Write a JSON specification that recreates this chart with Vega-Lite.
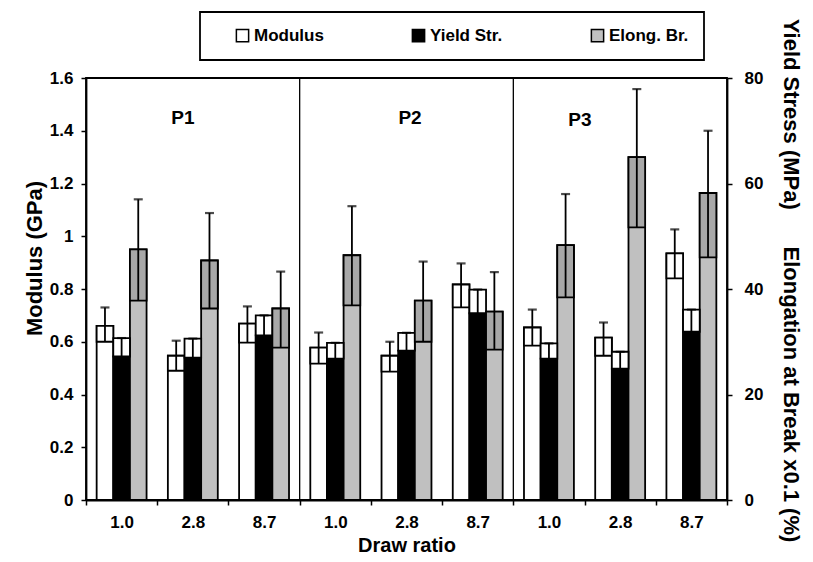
{
  "$schema": "https://vega.github.io/schema/vega-lite/v6.json",
  "width": 641,
  "height": 422,
  "autosize": "none",
  "padding": {"left": 86, "top": 78, "right": 86, "bottom": 62},
  "background": "white",
  "config": {
    "font": "Liberation Sans",
    "view": {"stroke": "black", "strokeWidth": 1.8},
    "axis": {
      "labelFont": "Liberation Sans", "labelFontWeight": "bold", "labelFontSize": 17, "labelColor": "black",
      "titleFont": "Liberation Sans", "titleFontWeight": "bold", "titleFontSize": 22, "titleColor": "black",
      "domainColor": "black", "domainWidth": 1.8, "tickColor": "black", "tickWidth": 1.5, "tickSize": 5, "grid": false
    }
  },
  "datasets": {
    "bars": [
      {"grp": "P1|1.0", "series": "Modulus", "v": 0.66, "lo": 0.60, "hi": 0.73},
      {"grp": "P1|1.0", "series": "Yield Str.", "v": 27.2, "lo": 27.2, "hi": 30.7},
      {"grp": "P1|1.0", "series": "Elong. Br.", "v": 47.5, "lo": 37.8, "hi": 57.0},
      {"grp": "P1|2.8", "series": "Modulus", "v": 0.547, "lo": 0.49, "hi": 0.604},
      {"grp": "P1|2.8", "series": "Yield Str.", "v": 27.0, "lo": 27.0, "hi": 30.6},
      {"grp": "P1|2.8", "series": "Elong. Br.", "v": 45.4, "lo": 36.3, "hi": 54.4},
      {"grp": "P1|8.7", "series": "Modulus", "v": 0.669, "lo": 0.597, "hi": 0.734},
      {"grp": "P1|8.7", "series": "Yield Str.", "v": 31.2, "lo": 31.2, "hi": 35.0},
      {"grp": "P1|8.7", "series": "Elong. Br.", "v": 36.3, "lo": 28.9, "hi": 43.3},
      {"grp": "P2|1.0", "series": "Modulus", "v": 0.578, "lo": 0.517, "hi": 0.635},
      {"grp": "P2|1.0", "series": "Yield Str.", "v": 26.8, "lo": 26.8, "hi": 29.8},
      {"grp": "P2|1.0", "series": "Elong. Br.", "v": 46.4, "lo": 36.9, "hi": 55.7},
      {"grp": "P2|2.8", "series": "Modulus", "v": 0.547, "lo": 0.487, "hi": 0.60},
      {"grp": "P2|2.8", "series": "Yield Str.", "v": 28.3, "lo": 28.3, "hi": 31.7},
      {"grp": "P2|2.8", "series": "Elong. Br.", "v": 37.8, "lo": 30.0, "hi": 45.2},
      {"grp": "P2|8.7", "series": "Modulus", "v": 0.817, "lo": 0.73, "hi": 0.897},
      {"grp": "P2|8.7", "series": "Yield Str.", "v": 35.4, "lo": 35.4, "hi": 39.9},
      {"grp": "P2|8.7", "series": "Elong. Br.", "v": 35.7, "lo": 28.5, "hi": 43.2},
      {"grp": "P3|1.0", "series": "Modulus", "v": 0.654, "lo": 0.585, "hi": 0.722},
      {"grp": "P3|1.0", "series": "Yield Str.", "v": 26.8, "lo": 26.8, "hi": 29.7},
      {"grp": "P3|1.0", "series": "Elong. Br.", "v": 48.3, "lo": 38.4, "hi": 58.0},
      {"grp": "P3|2.8", "series": "Modulus", "v": 0.616, "lo": 0.547, "hi": 0.673},
      {"grp": "P3|2.8", "series": "Yield Str.", "v": 24.9, "lo": 24.9, "hi": 28.1},
      {"grp": "P3|2.8", "series": "Elong. Br.", "v": 65.0, "lo": 51.7, "hi": 77.9},
      {"grp": "P3|8.7", "series": "Modulus", "v": 0.935, "lo": 0.84, "hi": 1.026},
      {"grp": "P3|8.7", "series": "Yield Str.", "v": 31.9, "lo": 31.9, "hi": 36.1},
      {"grp": "P3|8.7", "series": "Elong. Br.", "v": 58.2, "lo": 46.0, "hi": 70.0}
    ],
    "panels": [
      {"grp": "P1|2.8", "label": "P1", "y": 1.45},
      {"grp": "P2|2.8", "label": "P2", "y": 1.45},
      {"grp": "P3|1.0", "label": "P3", "y": 1.44}
    ],
    "dividers": [
      {"grp": "P2|1.0"},
      {"grp": "P3|1.0"}
    ]
  },
  "encoding": {
    "x": {
      "field": "grp", "type": "nominal",
      "scale": {"domain": ["P1|1.0","P1|2.8","P1|8.7","P2|1.0","P2|2.8","P2|8.7","P3|1.0","P3|2.8","P3|8.7"], "paddingInner": 0, "paddingOuter": 0},
      "axis": {"title": "Draw ratio", "titleFontSize": 20, "labelAngle": 0, "labelExpr": "split(datum.label, '|')[1]", "tickBand": "extent", "labelPadding": 9, "titlePadding": 5}
    }
  },
  "layer": [
    {
      "data": {"name": "bars"},
      "transform": [{"filter": "datum.series === 'Modulus'"}],
      "encoding": {
        "xOffset": {"field": "series", "type": "nominal", "scale": {"domain": ["Modulus", "Yield Str.", "Elong. Br."], "paddingInner": 0, "paddingOuter": 0.64}}
      },
      "layer": [
        {
          "mark": {"type": "bar", "stroke": "black", "strokeWidth": 1.8},
          "encoding": {
            "y": {"field": "v", "type": "quantitative", "scale": {"domain": [0, 1.6], "nice": false, "zero": true},
                  "axis": {"orient": "left", "values": [0, 0.2, 0.4, 0.6, 0.8, 1, 1.2, 1.4, 1.6], "format": "~g", "title": "Modulus (GPa)", "titlePadding": 3, "labelPadding": 8, "titleY": 180}},
            "fill": {"field": "series", "type": "nominal",
                     "scale": {"domain": ["Modulus", "Yield Str.", "Elong. Br."], "range": ["white", "black", "#c0c0c0"]},
                     "legend": {"title": null, "orient": "none", "legendX": 114, "legendY": -66, "direction": "horizontal",
                                "symbolType": "square", "symbolSize": 150, "symbolStrokeColor": "black", "symbolStrokeWidth": 1.5,
                                "labelFont": "Liberation Sans", "labelFontWeight": "bold", "labelFontSize": 17, "labelColor": "black",
                                "strokeColor": "black", "fillColor": "white", "padding": 15, "columnPadding": 67, "gridAlign": "each", "symbolOffset": 19, "labelOffset": 3,
                                "encode": {"legend": {"update": {"strokeWidth": {"value": 1.8}}}}}}
          }
        },
        {
          "mark": {"type": "bar", "fill": "white", "stroke": "black", "strokeWidth": 1.8},
          "encoding": {"y": {"field": "lo", "type": "quantitative"}, "y2": {"field": "v"}}
        },
        {
          "mark": {"type": "rule", "color": "black", "strokeWidth": 1.8},
          "encoding": {"y": {"field": "lo", "type": "quantitative"}, "y2": {"field": "hi"}}
        },
        {
          "mark": {"type": "tick", "color": "black", "thickness": 2.2, "size": 9},
          "encoding": {"y": {"field": "hi", "type": "quantitative"}}
        },
        {
          "data": {"name": "dividers"},
          "mark": {"type": "rule", "color": "black", "strokeWidth": 1.3},
          "encoding": {"x": {"field": "grp", "type": "nominal", "bandPosition": 0}, "xOffset": null}
        },
        {
          "data": {"name": "panels"},
          "transform": [{"filter": "datum.label === 'P1'"}],
          "mark": {"type": "text", "font": "Liberation Sans", "fontWeight": "bold", "fontSize": 19, "color": "black", "baseline": "middle"},
          "encoding": {"x": {"field": "grp", "type": "nominal", "bandPosition": 0.36}, "xOffset": null, "y": {"field": "y", "type": "quantitative"}, "text": {"field": "label"}}
        },
        {
          "data": {"name": "panels"},
          "transform": [{"filter": "datum.label === 'P2'"}],
          "mark": {"type": "text", "font": "Liberation Sans", "fontWeight": "bold", "fontSize": 19, "color": "black", "baseline": "middle"},
          "encoding": {"x": {"field": "grp", "type": "nominal", "bandPosition": 0.55}, "xOffset": null, "y": {"field": "y", "type": "quantitative"}, "text": {"field": "label"}}
        },
        {
          "data": {"name": "panels"},
          "transform": [{"filter": "datum.label === 'P3'"}],
          "mark": {"type": "text", "font": "Liberation Sans", "fontWeight": "bold", "fontSize": 19, "color": "black", "baseline": "middle"},
          "encoding": {"x": {"field": "grp", "type": "nominal", "bandPosition": 0.935}, "xOffset": null, "y": {"field": "y", "type": "quantitative"}, "text": {"field": "label"}}
        }
      ]
    },
    {
      "data": {"name": "bars"},
      "transform": [{"filter": "datum.series !== 'Modulus'"}],
      "encoding": {
        "xOffset": {"field": "series", "type": "nominal", "scale": {"domain": ["Modulus", "Yield Str.", "Elong. Br."], "paddingInner": 0, "paddingOuter": 0.64}}
      },
      "layer": [
        {
          "mark": {"type": "bar", "stroke": "black", "strokeWidth": 1.8},
          "encoding": {
            "y": {"field": "v", "type": "quantitative", "scale": {"domain": [0, 80], "nice": false, "zero": true},
                  "axis": {"orient": "right", "values": [0, 20, 40, 60, 80], "title": "Yield Stress (MPa)\u00a0\u00a0\u00a0\u00a0\u00a0\u00a0Elongation at Break x0.1 (%)", "titlePadding": 16, "labelPadding": 12, "titleY": 202}},
            "fill": {"field": "series", "type": "nominal"}
          }
        },
        {
          "transform": [{"filter": "datum.series === 'Yield Str.'"}],
          "mark": {"type": "bar", "fill": "white", "stroke": "black", "strokeWidth": 1.8},
          "encoding": {"y": {"field": "v", "type": "quantitative"}, "y2": {"field": "hi"}}
        },
        {
          "transform": [{"filter": "datum.series === 'Elong. Br.'"}],
          "mark": {"type": "bar", "fill": "#a8a8a8", "stroke": "black", "strokeWidth": 1.8},
          "encoding": {"y": {"field": "lo", "type": "quantitative"}, "y2": {"field": "v"}}
        },
        {
          "mark": {"type": "rule", "color": "black", "strokeWidth": 1.8},
          "encoding": {"y": {"field": "lo", "type": "quantitative"}, "y2": {"field": "hi"}}
        },
        {
          "mark": {"type": "tick", "color": "black", "thickness": 2.2, "size": 9},
          "encoding": {"y": {"field": "hi", "type": "quantitative"}}
        }
      ]
    }
  ],
  "resolve": {"scale": {"y": "independent"}}
}
